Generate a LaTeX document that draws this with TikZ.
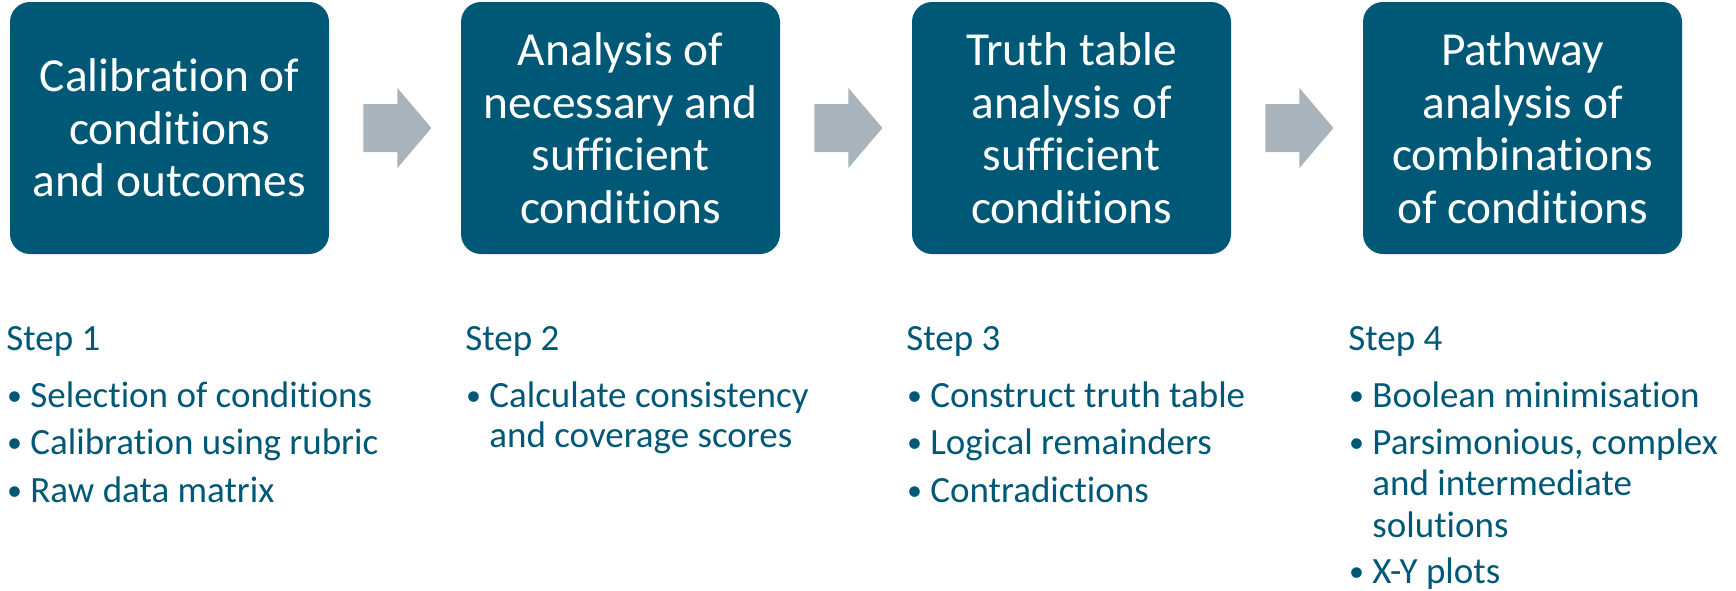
\documentclass[tikz,border=0pt]{standalone}
\usepackage{fontspec}
\setmainfont{Carlito}[Ligatures={NoCommon}]
\usetikzlibrary{calc}
\definecolor{boxblue}{HTML}{005877}
\definecolor{arrgrey}{HTML}{A9B3BB}
\begin{document}
\begin{tikzpicture}[x=0.5pt,y=-0.5pt,
  stepbox/.style={fill=boxblue, rounded corners=10pt, minimum width=159.5pt,
    minimum height=126pt, inner sep=0pt, text=white, align=center,
    font=\fontsize{23.7}{26.25}\selectfont},
  steplabel/.style={anchor=base west, inner sep=0pt, text=boxblue,
    font=\fontsize{18.5}{20.75}\selectfont},
  arrowfill/.style={fill=arrgrey}
]
\useasboundingbox (0,0) rectangle (1736,590);

\node[stepbox] (b1) at (169.5,128) {Calibration of\\conditions\\and outcomes};
\node[stepbox] (b2) at (620.5,128) {Analysis of\\necessary and\\sufficient\\conditions};
\node[stepbox] (b3) at (1071.5,128) {Truth table\\analysis of\\sufficient\\conditions};
\node[stepbox] (b4) at (1522.5,128) {Pathway\\analysis of\\combinations\\of conditions};

\foreach \a in {b1,b2,b3}{
  \fill[arrowfill] ($(\a.east)+(34,-24)$) -- ($(\a.east)+(68,-24)$) -- ($(\a.east)+(68,-40)$)
    -- ($(\a.east)+(102,0)$) -- ($(\a.east)+(68,40)$) -- ($(\a.east)+(68,24)$)
    -- ($(\a.east)+(34,24)$) -- cycle;
}

\newcommand{\bul}{\makebox[12pt][l]{\hspace{0.3pt}\raisebox{0.9pt}{\fontsize{15}{15}\selectfont•}}}

% Step 1
\node[steplabel] (s1) at (6,350) {Step 1};
\node[steplabel] (s1a) at (6,407) {\bul Selection of conditions};
\node[steplabel] (s1b) at (6,454) {\bul Calibration using rubric};
\node[steplabel] (s1c) at (6,502) {\bul Raw data matrix};

% Step 2
\node[steplabel] (s2) at (465,350) {Step 2};
\node[steplabel] (s2a) at (465,407) {\bul Calculate consistency};
\node[steplabel] (s2b) at (489,447) {and coverage scores};

% Step 3
\node[steplabel] (s3) at (906,350) {Step 3};
\node[steplabel] (s3a) at (906,407) {\bul Construct truth table};
\node[steplabel] (s3b) at (906,454) {\bul Logical remainders};
\node[steplabel] (s3c) at (906,502) {\bul Contradictions};

% Step 4
\node[steplabel] (s4) at (1348,350) {Step 4};
\node[steplabel] (s4a) at (1348,407) {\bul Boolean minimisation};
\node[steplabel] (s4b) at (1348,454) {\bul Parsimonious, complex};
\node[steplabel] (s4c) at (1372,495) {and intermediate};
\node[steplabel] (s4d) at (1372,537) {solutions};
\node[steplabel] (s4e) at (1348,583) {\bul X-Y plots};
\end{tikzpicture}
\end{document}
